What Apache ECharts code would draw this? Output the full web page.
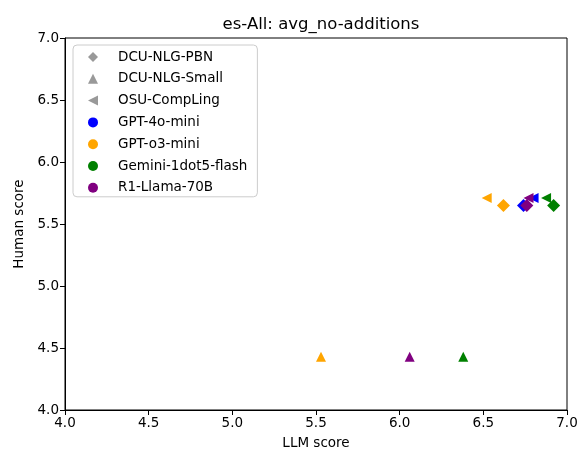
<!DOCTYPE html>
<html>
<head>
<meta charset="utf-8">
<script src="https://cdn.jsdelivr.net/npm/echarts@6/dist/echarts.min.js"></script>
<style>
  html, body { margin: 0; padding: 0; background: #fff; }
  #chart { width: 583px; height: 456px; }
</style>
</head>
<body>
<div id="chart"></div>
<script>
// systems (marker shape) and LLM judges (colour)
var systems = ['DCU-NLG-PBN', 'DCU-NLG-Small', 'OSU-CompLing'];
var systemSymbols = [
    'path://M5,0L10,5L5,10L0,5Z',   // diamond
    'path://M5,0L10,10L0,10Z',      // triangle up
    'path://M0,5L10,0L10,10Z'       // triangle left
];
var systemSizes = [[13, 13], [10, 10], [10, 10]];

var judges = ['GPT-4o-mini', 'GPT-o3-mini', 'Gemini-1dot5-flash', 'R1-Llama-70B'];
var judgeColors = ['#0000ff', '#ffa500', '#008000', '#800080'];

// human score per system (same whatever the judge)
var humanScores = [5.65, 4.43, 5.71];

// LLM score per judge, in system order (null = not plotted)
var llmGpt4oMini = [6.74, null, 6.80];
var llmGptO3Mini = [6.62, 5.53, 6.52];
var llmGemini = [6.92, 6.38, 6.875];
var llmR1Llama = [6.76, 6.06, 6.77];
var llmScores = [llmGpt4oMini, llmGptO3Mini, llmGemini, llmR1Llama];

var xTicks = [4.0, 4.5, 5.0, 5.5, 6.0, 6.5, 7.0];
var yTicks = [4.0, 4.5, 5.0, 5.5, 6.0, 6.5, 7.0];

var FONT = 'DejaVu Sans';

var series = [];
// legend-only series for the system shapes
systems.forEach(function (s, i) {
    series.push({
        name: s,
        type: 'scatter',
        symbol: systemSymbols[i],
        itemStyle: { color: '#808080' },
        data: []
    });
});
// one series per judge, shape taken from each point's system
judges.forEach(function (j, k) {
    var data = [];
    llmScores[k].forEach(function (v, i) {
        if (v === null) return;
        data.push({
            value: [v, humanScores[i]],
            symbol: systemSymbols[i],
            symbolSize: systemSizes[i]
        });
    });
    series.push({
        name: j,
        type: 'scatter',
        symbol: 'circle',
        itemStyle: { color: judgeColors[k], opacity: 1 },
        emphasis: { disabled: true },
        data: data
    });
});

function axisCommon(ticks) {
    return {
        type: 'value',
        min: ticks[0],
        max: ticks[ticks.length - 1],
        interval: 0.5,
        nameLocation: 'middle',
        nameTextStyle: { fontFamily: FONT, fontSize: 13.5, color: '#000' },
        axisLine: { show: true, lineStyle: { color: '#000', width: 1 } },
        axisTick: { show: true, inside: false, length: 5, lineStyle: { color: '#000' } },
        axisLabel: {
            fontFamily: FONT, fontSize: 13.5, color: '#000',
            formatter: function (v) { return v.toFixed(1); }
        },
        splitLine: { show: false }
    };
}

var xAxis = axisCommon(xTicks);
xAxis.name = 'LLM score';
xAxis.nameGap = 26;
xAxis.axisLabel.margin = 6;

var yAxis = axisCommon(yTicks);
yAxis.name = 'Human score';
yAxis.nameGap = 38;
yAxis.axisLabel.margin = 6;

var chart = echarts.init(document.getElementById('chart'), null, { renderer: 'canvas' });
chart.setOption({
    animation: false,
    backgroundColor: '#fff',
    title: {
        text: 'es-All: avg_no-additions',
        left: 316,
        top: 11,
        textAlign: 'center',
        textStyle: { fontFamily: FONT, fontSize: 16.5, fontWeight: 'normal', color: '#000' }
    },
    grid: {
        left: 65, right: 16, top: 38, bottom: 46,
        show: true, borderColor: '#000', borderWidth: 1
    },
    legend: {
        orient: 'vertical',
        left: 73,
        top: 45,
        data: systems.concat(judges),
        itemWidth: 10,
        itemHeight: 10,
        itemGap: 7.8,
        padding: [5, 10, 2, 15],
        backgroundColor: 'rgba(255,255,255,0.8)',
        borderColor: '#cccccc',
        borderWidth: 1,
        borderRadius: 4,
        selectedMode: false,
        textStyle: {
            fontFamily: FONT, fontSize: 13.5, color: '#000', lineHeight: 14,
            padding: [0, 0, 0, 15]
        }
    },
    xAxis: xAxis,
    yAxis: yAxis,
    series: series
});
</script>
</body>
</html>
